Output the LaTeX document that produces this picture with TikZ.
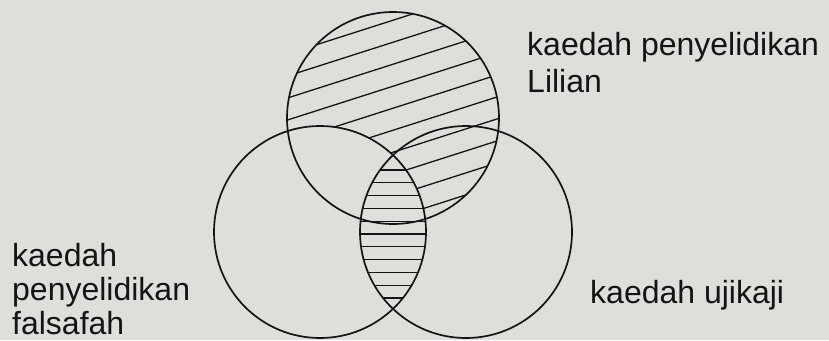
\documentclass[tikz,border=0pt]{standalone}
\usepackage{fontspec}
\setmainfont{Liberation Sans}
\definecolor{paper}{RGB}{222,223,219}
\definecolor{ink}{RGB}{20,20,20}
\begin{document}
\begin{tikzpicture}[x=1pt, y=-1pt,
    c/.style={circle, draw=ink, line width=1.7pt, minimum size=212pt, inner sep=0pt},
    lbl/.style={font=\fontsize{32}{34}\selectfont, text=ink, inner sep=0pt, align=left, anchor=base west},
    h/.style={ink, line width=1.3pt}
]
    \fill[paper] (0,0) rectangle (829,340);
    \useasboundingbox (0,0) rectangle (829,340);

    \begin{scope}[even odd rule]
        \clip (393,118) circle (106pt);
        \clip (0,0) rectangle (829,340) (320,232) circle (106pt);
        \foreach \i in {0,...,16}
            \draw[h] (250,22*\i) -- (550,-96+22*\i);
    \end{scope}
    \begin{scope}
        \clip (320,232) circle (106pt);
        \clip (466,232) circle (106pt);
        \foreach \i in {0,...,10}
            \draw[h] (340,170+12.8*\i) -- (450,170+12.8*\i);
    \end{scope}

    \node[c] (lilian) at (393,118) {};
    \node[c] (falsafah) at (320,232) {};
    \node[c] (ujikaji) at (466,232) {};

    \node[lbl, font=\fontsize{32}{37}\selectfont] (lbla) at (527,92) {kaedah penyelidikan\\Lilian};
    \node[lbl] (lblb) at (12,334) {kaedah\\penyelidikan\\falsafah};
    \node[lbl] (lblc) at (590,303) {kaedah ujikaji};
\end{tikzpicture}
\end{document}
